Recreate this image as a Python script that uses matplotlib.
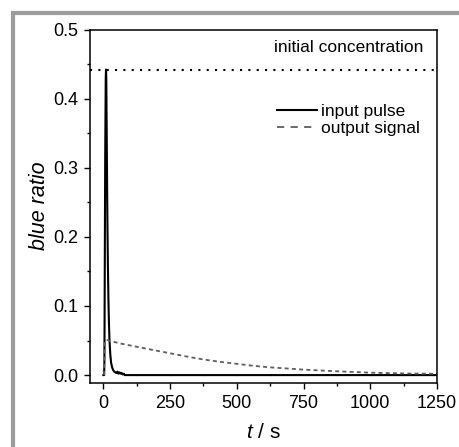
import matplotlib
matplotlib.use("Agg")
import matplotlib.pyplot as plt
from matplotlib.lines import Line2D
from matplotlib.ticker import MultipleLocator

plt.rcParams['font.family'] = ['Liberation Sans', 'DejaVu Sans']
plt.rcParams['mathtext.fontset'] = 'custom'
plt.rcParams['mathtext.it'] = 'Liberation Sans:italic'
plt.rcParams['mathtext.rm'] = 'Liberation Sans'

# ---- data ----
input_t = [0, 3, 4, 5, 7, 9, 10, 11, 13, 15, 17, 19, 21, 23, 26, 29, 33, 37, 41,
           45, 49, 53, 57, 61, 65, 69, 73, 77, 80, 100, 1250]
input_y = [0.0, 0.0, 0.02, 0.12, 0.32, 0.43, 0.442, 0.43, 0.33, 0.23, 0.16, 0.11,
           0.075, 0.05, 0.03, 0.018, 0.011, 0.007, 0.005, 0.004, 0.003, 0.005, 0.002,
           0.004, 0.002, 0.003, 0.001, 0.002, 0.0, 0.0, 0.0]

output_t = [3, 4, 6, 12, 60, 125, 190, 250, 310, 375, 440, 500, 560, 625, 690,
            750, 875, 1000, 1125, 1250]
output_y = [0.0, 0.03, 0.049, 0.051, 0.046, 0.041, 0.036, 0.0316, 0.027, 0.0226,
            0.019, 0.0163, 0.0135, 0.0112, 0.0095, 0.0079, 0.0055, 0.0035, 0.0024,
            0.0019]

initial_concentration = 0.442

xticks = [0, 250, 500, 750, 1000, 1250]
yticks = [0.0, 0.1, 0.2, 0.3, 0.4, 0.5]

# ---- figure ----
fig = plt.figure(figsize=(4.59, 4.47), dpi=100)
ax = fig.add_axes([90/459, 1-382.7/447, 347/459, 353.2/447])

out_color = '#5e5e5e'
ax.plot(input_t, input_y, color='black', lw=1.5)
ax.plot(output_t, output_y, color=out_color, lw=1.3, dashes=(2.2, 1.8))
ax.axhline(initial_concentration, color='black', lw=1.5, linestyle=(0, (1, 3)))
ax.text(0.96, 0.948, 'initial concentration', transform=ax.transAxes,
        ha='right', va='center', fontsize=12.5)

ax.set_xlim(-50, 1250)
ax.set_ylim(-0.011, 0.5)
ax.set_xticks(xticks)
ax.set_yticks(yticks)
ax.set_xticklabels([str(v) for v in xticks])
ax.set_yticklabels([f'{v:.1f}' for v in yticks])
ax.xaxis.set_minor_locator(MultipleLocator(125))
ax.yaxis.set_minor_locator(MultipleLocator(0.05))
ax.tick_params(which='both', direction='out', top=False, right=False,
               labelsize=13, width=1)
ax.tick_params(which='major', length=4.5, pad=4)
ax.tick_params(which='minor', length=2.5)
for s in ax.spines.values():
    s.set_linewidth(1.1)

ax.set_ylabel('blue ratio', fontsize=15.5, style='italic', labelpad=2)
ax.set_xlabel(r'$t$ / s', fontsize=15, labelpad=8)

handles = [Line2D([], [], color='black', lw=1.5),
           Line2D([], [], color=out_color, lw=1.3, dashes=(4, 3.5))]
ax.legend(handles, ['input pulse', 'output signal'], loc='center left',
          bbox_to_anchor=(0.539, 0.744), frameon=False,
          fontsize=12.5, handlelength=2.3, handletextpad=0.25,
          labelspacing=0.1, borderaxespad=0, borderpad=0)

# gray frame lines at top and left of the figure
gray = '#9c9c9c'
fig.add_artist(Line2D([11/459, 1.0], [1-12.5/447, 1-12.5/447], color=gray,
                      lw=3, transform=fig.transFigure, solid_capstyle='butt'))
fig.add_artist(Line2D([13/459, 13/459], [1-10.5/447, 0.0], color=gray,
                      lw=3, transform=fig.transFigure, solid_capstyle='butt'))

fig.savefig('out.png', dpi=100)
